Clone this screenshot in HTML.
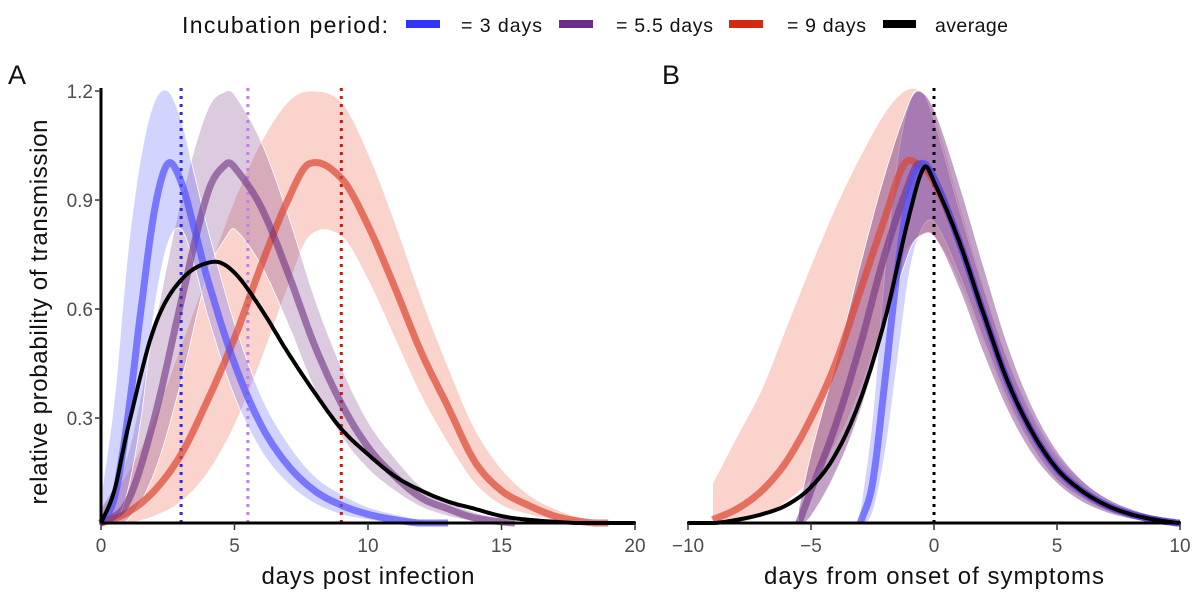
<!DOCTYPE html>
<html><head><meta charset="utf-8"><style>
body{margin:0;background:#fff;}
svg{display:block;font-family:"Liberation Sans",Arial,sans-serif;}
</style></head><body>
<svg id="chart" width="1200" height="602" viewBox="0 0 1200 602">
<g>
<text x="182" y="33" font-size="23" textLength="206" fill="#111">Incubation period:</text>
<rect x="406" y="20" width="34" height="8" fill="#3333ff"/>
<text x="461" y="32" font-size="19.5" textLength="81" fill="#111">= 3 days</text>
<rect x="559" y="20" width="34" height="8" fill="#6a2c8a"/>
<text x="616" y="32" font-size="19.5" textLength="97" fill="#111">= 5.5 days</text>
<rect x="729" y="20" width="34" height="8" fill="#d42a10"/>
<text x="787" y="32" font-size="19.5" textLength="79" fill="#111">= 9 days</text>
<rect x="883" y="20" width="33" height="8" fill="#000"/>
<text x="935" y="32" font-size="19.5" textLength="73" fill="#111">average</text>
</g>
<text x="8" y="84" font-size="27" fill="#111">A</text>
<text x="662" y="84" font-size="27" fill="#111">B</text>
<text transform="translate(47,312) rotate(-90)" text-anchor="middle" font-size="24" textLength="385" fill="#111">relative probability of transmission</text>
<text x="368" y="584" text-anchor="middle" font-size="24" textLength="213" fill="#111">days post infection</text>
<text x="934" y="584" text-anchor="middle" font-size="24" textLength="340" fill="#111">days from onset of symptoms</text>
<g id="plotA"></g>
<g id="plotB"></g>
</svg>
<script>
// ---- Panel A data ----
const aBlueX=[0,0.5,1,1.5,2,2.5,3,3.5,4,5,6,7,8,9,10,11,12,13];
const aBlueMean=[0.01,0.08,0.3,0.6,0.87,1.0,0.95,0.82,0.68,0.45,0.28,0.17,0.1,0.06,0.035,0.02,0.01,0.005];
const aBlueHi=[0.08,0.35,0.75,1.02,1.17,1.2,1.12,0.97,0.82,0.56,0.36,0.23,0.14,0.09,0.055,0.035,0.02,0.01];
const aBlueLo=[0,0.01,0.1,0.3,0.6,0.78,0.82,0.72,0.58,0.36,0.21,0.12,0.065,0.035,0.02,0.01,0.005,0];
const aPurpX=[0,1,2,3,4,4.7,5,6,7,8,9,10,11,12,13,14,15.5];
const aPurpMean=[0.01,0.07,0.3,0.62,0.92,1.0,0.99,0.88,0.7,0.5,0.34,0.22,0.14,0.08,0.05,0.025,0.01];
const aPurpHi=[0.05,0.2,0.55,0.9,1.15,1.2,1.19,1.06,0.86,0.63,0.44,0.29,0.19,0.11,0.07,0.04,0.015];
const aPurpLo=[0,0.02,0.15,0.4,0.7,0.8,0.82,0.72,0.56,0.38,0.25,0.16,0.1,0.055,0.03,0.015,0.005];
const aRedX=[0,1,2,3,4,5,6,7,7.8,9,10,11,12,13,14,15,16,17,18,19];
const aRedMean=[0.01,0.04,0.1,0.2,0.35,0.52,0.72,0.9,1.0,0.96,0.83,0.66,0.48,0.33,0.18,0.1,0.06,0.03,0.015,0.008];
const aRedHi=[0.05,0.15,0.3,0.5,0.7,0.9,1.06,1.17,1.2,1.17,1.03,0.84,0.63,0.44,0.27,0.16,0.09,0.05,0.025,0.012];
const aRedLo=[0,0.01,0.03,0.07,0.15,0.28,0.46,0.66,0.8,0.8,0.68,0.52,0.36,0.23,0.12,0.06,0.035,0.018,0.008,0.004];
const aAvgX=[0,0.5,1,2,3,4.2,5,6,7,8,9,10,11,12,13,14,15,16,18,20];
const aAvgMean=[0.01,0.1,0.27,0.55,0.68,0.73,0.7,0.6,0.48,0.37,0.27,0.2,0.14,0.1,0.07,0.05,0.03,0.02,0.01,0.005];
const aVlines=[3,5.5,9];
// ---- Panel B data ----
const bBlueX=[-3,-2.5,-2,-1.5,-1,-0.5,0,1,2,3,4,5,6,7,8,9,10];
const bBlueMean=[0.01,0.12,0.4,0.7,0.92,1.0,0.96,0.79,0.59,0.4,0.26,0.16,0.1,0.06,0.035,0.02,0.01];
const bBlueHi=[0.04,0.3,0.7,1.0,1.17,1.2,1.12,0.88,0.66,0.46,0.31,0.2,0.13,0.08,0.05,0.03,0.015];
const bBlueLo=[0,0.04,0.2,0.45,0.7,0.82,0.84,0.7,0.52,0.35,0.22,0.13,0.08,0.045,0.025,0.012,0.005];
const bPurpX=[-5.5,-5,-4,-3,-2,-1,-0.6,0,1,2,3,4,5,6,7,8,9,10];
const bPurpMean=[0.01,0.1,0.28,0.5,0.75,0.95,1.0,0.96,0.79,0.59,0.4,0.26,0.16,0.1,0.06,0.035,0.02,0.01];
const bPurpHi=[0.05,0.2,0.45,0.72,0.97,1.17,1.2,1.15,0.95,0.72,0.5,0.33,0.21,0.13,0.08,0.05,0.03,0.015];
const bPurpLo=[0,0.03,0.15,0.32,0.55,0.76,0.8,0.8,0.66,0.48,0.32,0.2,0.12,0.07,0.04,0.022,0.012,0.005];
const bRedX=[-9,-8,-7,-6,-5,-4,-3,-2,-1.2,-0.5,0,1,2,3,4,5,6,7,8,9,10];
const bRedMean=[0.02,0.05,0.1,0.18,0.3,0.45,0.65,0.85,1.0,0.99,0.95,0.79,0.59,0.4,0.26,0.16,0.1,0.06,0.035,0.02,0.01];
const bRedHi=[0.12,0.25,0.38,0.55,0.72,0.88,1.02,1.14,1.2,1.2,1.14,0.9,0.67,0.46,0.3,0.19,0.12,0.07,0.04,0.025,0.012];
const bRedLo=[0,0.01,0.03,0.07,0.13,0.23,0.38,0.58,0.75,0.8,0.8,0.68,0.51,0.34,0.22,0.13,0.08,0.045,0.025,0.012,0.005];
const bAvgX=[-10,-9,-8,-7,-6,-5,-4,-3,-2,-1,-0.4,0,1,2,3,4,5,6,7,8,9,10];
const bAvgMean=[0.005,0.01,0.02,0.035,0.06,0.11,0.2,0.35,0.57,0.86,0.99,0.95,0.79,0.59,0.4,0.26,0.16,0.1,0.06,0.035,0.02,0.01];
const yTicks=[0.3,0.6,0.9,1.2];
const yTickLabels=["0.3","0.6","0.9","1.2"];
const aXTicks=[0,5,10,15,20];
const bXTicks=[-10,-5,0,5,10];
const bXTickLabels=["\u221210","\u22125","0","5","10"];

const NS="http://www.w3.org/2000/svg";
const yS=v=>527-v*363.3;
const axA=v=>101+v*26.7;
const axB=v=>934+v*24.6;
function interp(xs,ys,n){
  const out=[];
  for(let i=0;i<xs.length-1;i++){
    const x0=xs[Math.max(0,i-1)],x1=xs[i],x2=xs[i+1],x3=xs[Math.min(xs.length-1,i+2)];
    const y0=ys[Math.max(0,i-1)],y1=ys[i],y2=ys[i+1],y3=ys[Math.min(ys.length-1,i+2)];
    const h=x2-x1;
    const m1=(y2-y0)/((x2-x0)||1)*h, m2=(y3-y1)/((x3-x1)||1)*h;
    for(let k=0;k<n;k++){
      const t=k/n,t2=t*t,t3=t2*t;
      const y=(2*t3-3*t2+1)*y1+(t3-2*t2+t)*m1+(-2*t3+3*t2)*y2+(t3-t2)*m2;
      out.push([x1+t*h,Math.max(0.003,y)]);
    }
  }
  out.push([xs[xs.length-1],ys[ys.length-1]]);
  return out;
}
function mk(parent,tag,attrs){const e=document.createElementNS(NS,tag);for(const k in attrs)e.setAttribute(k,attrs[k]);parent.appendChild(e);return e;}
function linePath(pts,xs){return pts.map((p,i)=>(i?'L':'M')+xs(p[0]).toFixed(1)+','+Math.min(523,yS(p[1])).toFixed(1)).join('');}
function band(g,xs,lo,hi,fill,sx,name){
  const up=interp(xs,hi,12),dn=interp(xs,lo,12).reverse();
  const d=linePath(up,sx)+dn.map(p=>'L'+sx(p[0]).toFixed(1)+','+Math.min(523,yS(p[1])).toFixed(1)).join('')+'Z';
  const e=mk(g,'path',{d:d,fill:fill,stroke:'#fff','stroke-width':0.8});
  
  
}
function line(g,xs,ys,stroke,w,sx,name){
  const e=mk(g,'path',{d:linePath(interp(xs,ys,12),sx),fill:'none',stroke:stroke,'stroke-width':w,'stroke-linecap':'butt','stroke-linejoin':'round'});
  
  
}
const BLUEF='rgba(110,110,255,0.3)',PURF='rgba(130,70,140,0.28)',REDF='rgba(240,130,110,0.35)';
const BLUEL='rgba(80,80,255,0.7)',PURL='rgba(110,50,130,0.6)',REDL='rgba(220,70,50,0.7)';

// Panel A
const gA=document.getElementById('plotA');
band(gA,aRedX,aRedLo,aRedHi,REDF,axA,'band-a-9-days');
band(gA,aPurpX,aPurpLo,aPurpHi,PURF,axA,'band-a-5-5-days');
band(gA,aBlueX,aBlueLo,aBlueHi,BLUEF,axA,'band-a-3-days');
const vcols=['#2a2ae8','#c080ea','#c81a10'];
aVlines.forEach((v,i)=>{
  const e=mk(gA,'line',{x1:axA(v),x2:axA(v),y1:88,y2:523,stroke:vcols[i],'stroke-width':3,'stroke-dasharray':'3,5'});
  
  
});
line(gA,aRedX,aRedMean,REDL,7,axA,'line-a-9-days');
line(gA,aPurpX,aPurpMean,PURL,7,axA,'line-a-5-5-days');
line(gA,aBlueX,aBlueMean,BLUEL,7,axA,'line-a-3-days');
line(gA,aAvgX,aAvgMean,'#000',4,axA,'line-a-average');
// axes A
let e=mk(gA,'line',{x1:101,x2:101,y1:88,y2:524,stroke:'#000','stroke-width':3});


e=mk(gA,'line',{x1:99.5,x2:636,y1:523,y2:523,stroke:'#000','stroke-width':3});


yTicks.forEach((v,i)=>{
  let t=mk(gA,'line',{x1:95,x2:101,y1:yS(v),y2:yS(v),stroke:'#333','stroke-width':1.5});
  
  
  t=mk(gA,'text',{x:93,y:yS(v)+7,'text-anchor':'end','font-size':19,fill:'#4d4d4d'});
  t.textContent=yTickLabels[i];
  
  
});
aXTicks.forEach(v=>{
  let t=mk(gA,'line',{x1:axA(v),x2:axA(v),y1:523,y2:530,stroke:'#333','stroke-width':1.5});
  
  
  t=mk(gA,'text',{x:axA(v),y:552,'text-anchor':'middle','font-size':19,fill:'#4d4d4d'});
  t.textContent=String(v);
  
  
});

// Panel B
const gB=document.getElementById('plotB');
band(gB,bRedX,bRedLo,bRedHi,REDF,axB,'band-b-9-days');
band(gB,bBlueX,bBlueLo,bBlueHi,BLUEF,axB,'band-b-3-days');
band(gB,bPurpX,bPurpLo,bPurpHi,'rgba(120,50,130,0.45)',axB,'band-b-5-5-days');
e=mk(gB,'line',{x1:axB(0),x2:axB(0),y1:88,y2:523,stroke:'#000','stroke-width':3,'stroke-dasharray':'3,5'});


line(gB,bRedX,bRedMean,REDL,7,axB,'line-b-9-days');
line(gB,bPurpX,bPurpMean,PURL,7,axB,'line-b-5-5-days');
line(gB,bBlueX,bBlueMean,BLUEL,7,axB,'line-b-3-days');
line(gB,bAvgX,bAvgMean,'#000',4,axB,'line-b-average');
e=mk(gB,'line',{x1:687,x2:1181,y1:523,y2:523,stroke:'#000','stroke-width':3});


bXTicks.forEach((v,i)=>{
  let t=mk(gB,'line',{x1:axB(v),x2:axB(v),y1:523,y2:530,stroke:'#333','stroke-width':1.5});
  
  
  t=mk(gB,'text',{x:axB(v),y:552,'text-anchor':'middle','font-size':19,fill:'#4d4d4d'});
  t.textContent=bXTickLabels[i];
  
  
});
</script>
</body></html>
